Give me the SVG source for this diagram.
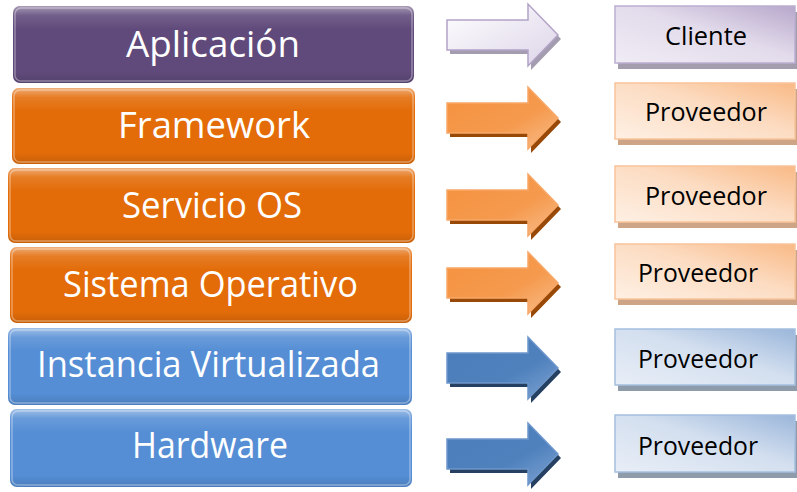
<svg xmlns="http://www.w3.org/2000/svg" xmlns:xlink="http://www.w3.org/1999/xlink" width="797" height="492" viewBox="0 0 797 492">
<style>
.lt{font-family:"Open Sans","Liberation Sans",sans-serif;font-size:36px;fill:#fff;text-anchor:middle}
.rt{font-family:"Open Sans","Liberation Sans",sans-serif;font-size:25px;fill:#000;text-anchor:middle}
.gloss{fill:url(#gloss)}
.bev{fill:none;stroke:#fff;stroke-opacity:.35;stroke-width:1.5}
</style>
<defs>
<linearGradient id="gloss" x1="0" y1="0" x2="0" y2="1">
<stop offset="0" stop-color="#fff" stop-opacity=".45"/>
<stop offset=".12" stop-color="#fff" stop-opacity=".12"/>
<stop offset=".3" stop-color="#fff" stop-opacity="0"/>
<stop offset=".85" stop-color="#000" stop-opacity="0"/>
<stop offset="1" stop-color="#000" stop-opacity=".12"/>
</linearGradient>
<linearGradient id="aw" x1="0" y1="0" x2="1" y2="1"><stop offset="0" stop-color="#fff"/><stop offset="1" stop-color="#DCD4E8"/></linearGradient>
<linearGradient id="ao" x1="0" y1="0" x2="1" y2="1"><stop offset="0" stop-color="#F5923E"/><stop offset=".6" stop-color="#F59A4E"/><stop offset="1" stop-color="#F9BE8C"/></linearGradient>
<linearGradient id="ab" x1="0" y1="0" x2="1" y2="1"><stop offset="0" stop-color="#4A7DBA"/><stop offset=".6" stop-color="#4F81BD"/><stop offset="1" stop-color="#7FA3D2"/></linearGradient>
<linearGradient id="bp" x1="0" y1="1" x2="1" y2="0"><stop offset="0" stop-color="#F0ECF5"/><stop offset=".55" stop-color="#E2DBEB"/><stop offset="1" stop-color="#B7A7CB"/></linearGradient>
<linearGradient id="bo" x1="0" y1="1" x2="1" y2="0"><stop offset="0" stop-color="#FEF0E4"/><stop offset=".55" stop-color="#FCDCC2"/><stop offset="1" stop-color="#F9B985"/></linearGradient>
<linearGradient id="bb" x1="0" y1="1" x2="1" y2="0"><stop offset="0" stop-color="#E8EEF7"/><stop offset=".55" stop-color="#D3DFEF"/><stop offset="1" stop-color="#9AB6DA"/></linearGradient>
<path id="arr" d="M0,-15 H81 V-31 L111,0 L81,31 V15 H0 Z"/>
</defs>

<g id="layer-aplicacion">
<rect x="13" y="6" width="401" height="77" rx="7" fill="#604A7B"/>
<rect x="13" y="6" width="401" height="77" rx="7" class="gloss"/>
<rect x="15" y="8" width="397" height="73" rx="6" class="bev"/>
<text class="lt" x="213" y="57" textLength="174" lengthAdjust="spacingAndGlyphs">Aplicación</text>
</g>
<g id="layer-framework">
<rect x="12" y="88" width="403" height="76" rx="7" fill="#E36C09"/>
<rect x="12" y="88" width="403" height="76" rx="7" class="gloss"/>
<rect x="14" y="90" width="399" height="72" rx="6" class="bev"/>
<text class="lt" x="214" y="138" textLength="192" lengthAdjust="spacingAndGlyphs">Framework</text>
</g>
<g id="layer-servicio">
<rect x="8" y="168" width="407" height="75" rx="7" fill="#E36C09"/>
<rect x="8" y="168" width="407" height="75" rx="7" class="gloss"/>
<rect x="10" y="170" width="403" height="71" rx="6" class="bev"/>
<text class="lt" x="212" y="218" textLength="180" lengthAdjust="spacingAndGlyphs">Servicio OS</text>
</g>
<g id="layer-sistema">
<rect x="10" y="247" width="402" height="76" rx="7" fill="#E36C09"/>
<rect x="10" y="247" width="402" height="76" rx="7" class="gloss"/>
<rect x="12" y="249" width="398" height="72" rx="6" class="bev"/>
<text class="lt" x="210.5" y="297" textLength="295" lengthAdjust="spacingAndGlyphs">Sistema Operativo</text>
</g>
<g id="layer-instancia">
<rect x="8" y="328" width="404" height="77" rx="7" fill="#558ED5"/>
<rect x="8" y="328" width="404" height="77" rx="7" class="gloss"/>
<rect x="10" y="330" width="400" height="73" rx="6" class="bev"/>
<text class="lt" x="208.5" y="377" textLength="343" lengthAdjust="spacingAndGlyphs">Instancia Virtualizada</text>
</g>
<g id="layer-hardware">
<rect x="10" y="409" width="402" height="78" rx="7" fill="#558ED5"/>
<rect x="10" y="409" width="402" height="78" rx="7" class="gloss"/>
<rect x="12" y="411" width="398" height="74" rx="6" class="bev"/>
<text class="lt" x="210" y="458" textLength="156" lengthAdjust="spacingAndGlyphs">Hardware</text>
</g>

<g id="connectors">
<use href="#arr" x="450" y="39" fill="#A49DB0"/>
<use href="#arr" x="447" y="35" fill="url(#aw)" stroke="#B3A2C7" stroke-width="1.5"/>
<use href="#arr" x="450" y="122" fill="#984807"/>
<use href="#arr" x="447" y="118" fill="url(#ao)" stroke="#F8A868" stroke-width="1.5"/>
<use href="#arr" x="450" y="209" fill="#984807"/>
<use href="#arr" x="447" y="205" fill="url(#ao)" stroke="#F8A868" stroke-width="1.5"/>
<use href="#arr" x="450" y="287" fill="#984807"/>
<use href="#arr" x="447" y="283" fill="url(#ao)" stroke="#F8A868" stroke-width="1.5"/>
<use href="#arr" x="450" y="372" fill="#254061"/>
<use href="#arr" x="447" y="368" fill="url(#ab)" stroke="#6E97CC" stroke-width="1.5"/>
<use href="#arr" x="450" y="458" fill="#254061"/>
<use href="#arr" x="447" y="454" fill="url(#ab)" stroke="#6E97CC" stroke-width="1.5"/>
</g>

<g id="role-cliente">
<rect x="618" y="12" width="180" height="57" fill="#A39DAE"/>
<rect x="615" y="6" width="180" height="57" fill="url(#bp)" stroke="#BBAED0" stroke-width="1.5"/>
<text class="rt" x="706" y="45" textLength="82" lengthAdjust="spacingAndGlyphs">Cliente</text>
</g>
<g id="role-proveedor-1">
<rect x="618" y="89" width="180" height="56" fill="#CDA586"/>
<rect x="615" y="83" width="180" height="56" fill="url(#bo)" stroke="#F9C49A" stroke-width="1.5"/>
<text class="rt" x="706" y="121" textLength="122" lengthAdjust="spacingAndGlyphs">Proveedor</text>
</g>
<g id="role-proveedor-2">
<rect x="618" y="172" width="180" height="56" fill="#CDA586"/>
<rect x="615" y="166" width="180" height="56" fill="url(#bo)" stroke="#F9C49A" stroke-width="1.5"/>
<text class="rt" x="706" y="205" textLength="122" lengthAdjust="spacingAndGlyphs">Proveedor</text>
</g>
<g id="role-proveedor-3">
<rect x="618" y="250" width="180" height="55" fill="#CDA586"/>
<rect x="615" y="244" width="180" height="55" fill="url(#bo)" stroke="#F9C49A" stroke-width="1.5"/>
<text class="rt" x="698" y="282" textLength="120" lengthAdjust="spacingAndGlyphs">Proveedor</text>
</g>
<g id="role-proveedor-4">
<rect x="618" y="335" width="180" height="56" fill="#8E9BAB"/>
<rect x="615" y="329" width="180" height="56" fill="url(#bb)" stroke="#A5BFDF" stroke-width="1.5"/>
<text class="rt" x="698" y="368" textLength="120" lengthAdjust="spacingAndGlyphs">Proveedor</text>
</g>
<g id="role-proveedor-5">
<rect x="618" y="421" width="180" height="57" fill="#8E9BAB"/>
<rect x="615" y="415" width="180" height="57" fill="url(#bb)" stroke="#A5BFDF" stroke-width="1.5"/>
<text class="rt" x="698" y="455" textLength="120" lengthAdjust="spacingAndGlyphs">Proveedor</text>
</g>
</svg>
